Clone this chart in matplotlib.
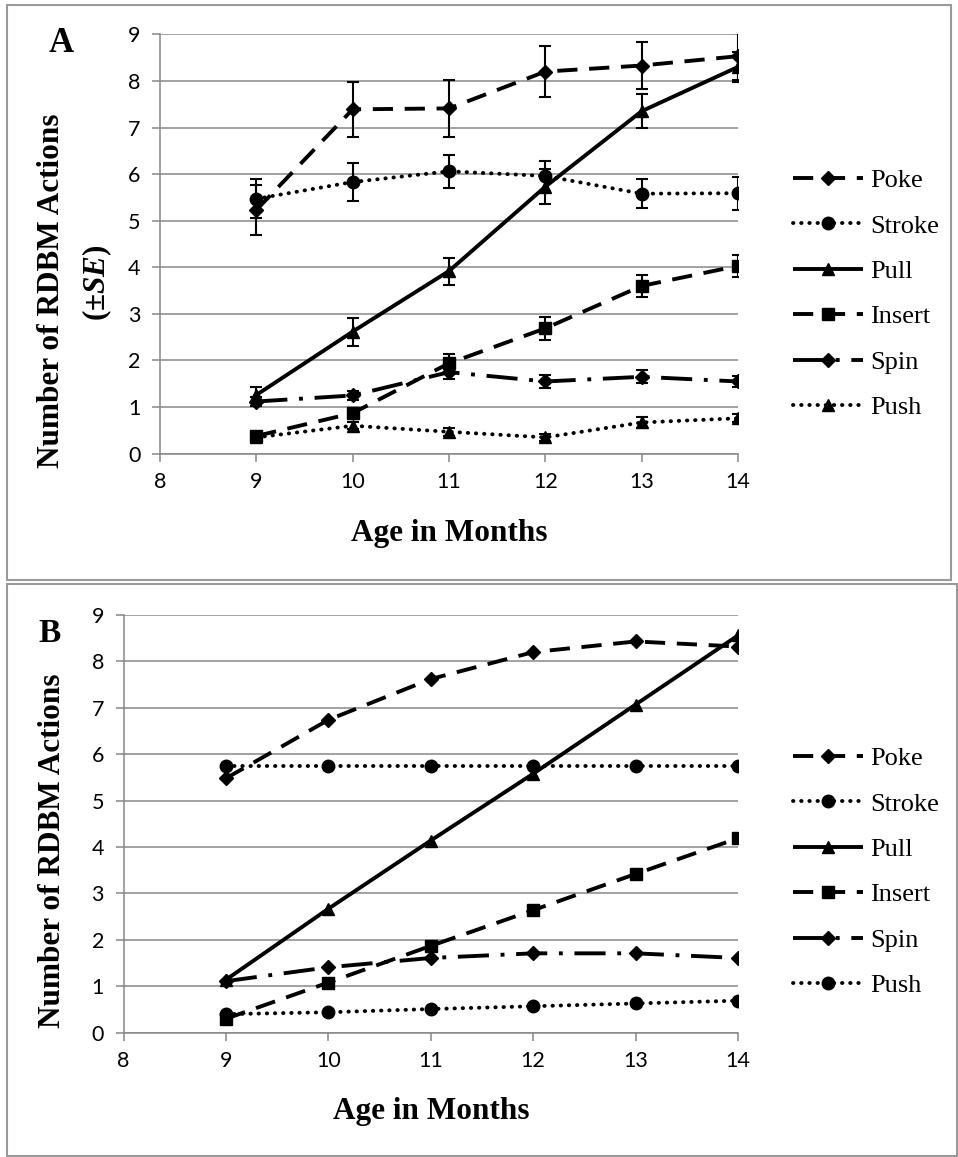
import matplotlib
matplotlib.use("Agg")
import matplotlib.pyplot as plt
from matplotlib.patches import Rectangle

# ---------------- data ----------------
months = [9, 10, 11, 12, 13, 14]
series_names = ["Poke", "Stroke", "Pull", "Insert", "Spin", "Push"]

# Panel A (observed means, +/- SE)
a_poke = [5.23, 7.39, 7.41, 8.20, 8.33, 8.53]
a_stroke = [5.47, 5.83, 6.06, 5.96, 5.58, 5.59]
a_pull = [1.26, 2.62, 3.92, 5.73, 7.35, 8.30]
a_insert = [0.38, 0.87, 1.94, 2.69, 3.60, 4.03]
a_spin = [1.12, 1.25, 1.75, 1.55, 1.65, 1.55]
a_push = [0.35, 0.60, 0.47, 0.35, 0.67, 0.76]

a_poke_se = [0.53, 0.59, 0.61, 0.54, 0.50, 0.50]
a_stroke_se = [0.42, 0.41, 0.36, 0.32, 0.31, 0.35]
a_pull_se = [0.17, 0.30, 0.29, 0.38, 0.36, 0.32]
a_insert_se = [0.08, 0.12, 0.19, 0.25, 0.24, 0.23]
a_spin_se = [0.10, 0.10, 0.14, 0.14, 0.14, 0.12]
a_push_se = [0.05, 0.08, 0.08, 0.07, 0.11, 0.09]

# Panel B (model estimates)
b_poke = [5.48, 6.74, 7.62, 8.20, 8.43, 8.32]
b_stroke = [5.75, 5.75, 5.75, 5.75, 5.75, 5.75]
b_pull = [1.14, 2.67, 4.14, 5.58, 7.07, 8.56]
b_insert = [0.30, 1.08, 1.87, 2.64, 3.42, 4.19]
b_spin = [1.11, 1.41, 1.61, 1.71, 1.71, 1.61]
b_push = [0.40, 0.44, 0.51, 0.57, 0.63, 0.69]

x_ticks = [8, 9, 10, 11, 12, 13, 14]
y_ticks = [0, 1, 2, 3, 4, 5, 6, 7, 8, 9]

# ---------------- styling ----------------
W, H = 958, 1157
plt.rcParams['mathtext.fontset'] = 'custom'
plt.rcParams['mathtext.rm'] = 'Liberation Serif:bold'
plt.rcParams['mathtext.it'] = 'Liberation Serif:italic:bold'

SERIF = ['Liberation Serif', 'DejaVu Serif']
SANS = ['Lato', 'DejaVu Sans']
GRID = '#878787'
LW = 2.8

dash = (0, (5.2, 3.0))
dot = (0, (0.1, 2.0))
dashdot = (0, (8, 3, 1, 3))

styles_a = {
    "Poke": dict(ls=dash, marker='D', ms=7.5, cap='butt'),
    "Stroke": dict(ls=dot, marker='o', ms=9, cap='round'),
    "Pull": dict(ls='-', marker='^', ms=9, cap='butt'),
    "Insert": dict(ls=dash, marker='s', ms=8, cap='butt'),
    "Spin": dict(ls=dashdot, marker='D', ms=7.5, cap='butt'),
    "Push": dict(ls=dot, marker='^', ms=8.5, cap='round'),
}
styles_b = dict(styles_a)
styles_b["Push"] = dict(ls=dot, marker='o', ms=9, cap='round')


def fx(px):
    return px / W


def fy(py):
    return 1 - py / H


fig = plt.figure(figsize=(W / 100, H / 100), dpi=100)

# panel frames
fig.add_artist(Rectangle((fx(7), fy(580)), fx(951) - fx(7), fy(5) - fy(580),
                         transform=fig.transFigure, fill=False, ec='#9a9a9a', lw=1.5))
fig.add_artist(Rectangle((fx(7), fy(1156)), fx(957) - fx(7), fy(584) - fy(1156),
                         transform=fig.transFigure, fill=False, ec='#9a9a9a', lw=1.5))


def setup_axes(ax):
    ax.set_xlim(8, 14)
    ax.set_ylim(0, 9)
    ax.set_xticks(x_ticks)
    ax.set_yticks(y_ticks)
    ax.set_xticklabels([str(t) for t in x_ticks])
    ax.set_yticklabels([str(t) for t in y_ticks])
    ax.grid(axis='y', color=GRID, lw=1.1)
    ax.set_axisbelow(True)
    for s in ['top', 'right']:
        ax.spines[s].set_visible(False)
    for s in ['left', 'bottom']:
        ax.spines[s].set_color(GRID)
        ax.spines[s].set_linewidth(1.1)
    ax.tick_params(axis='both', colors=GRID, length=6, width=1.1, labelcolor='black')
    ax.tick_params(axis='y', pad=8)
    ax.tick_params(axis='x', pad=7)
    for lab in ax.get_xticklabels() + ax.get_yticklabels():
        lab.set_fontfamily(SANS)
        lab.set_fontsize(15.5)


def draw_series(ax, data, styles):
    for name, vals in zip(series_names, data):
        st = styles[name]
        ax.plot(months, vals, color='black', lw=LW, linestyle=st['ls'],
                dash_capstyle=st['cap'], solid_capstyle='butt',
                marker=st['marker'], ms=st['ms'], mfc='black', mec='black',
                label=name, zorder=3)


def add_legend(ax, cx, cy):
    leg = ax.legend(loc='center left', bbox_to_anchor=(fx(cx), fy(cy)),
                    bbox_transform=fig.transFigure, frameon=False,
                    prop={'family': SERIF, 'size': 19}, handlelength=2.65,
                    handletextpad=0.27, labelspacing=0.83, borderpad=0,
                    borderaxespad=0, numpoints=1)
    return leg


# ---------------- Panel A ----------------
axA = fig.add_axes([fx(160), fy(453.7), fx(738) - fx(160), fy(34.3) - fy(453.7)])
setup_axes(axA)
a_data = [a_poke, a_stroke, a_pull, a_insert, a_spin, a_push]
a_se = [a_poke_se, a_stroke_se, a_pull_se, a_insert_se, a_spin_se, a_push_se]
for vals, se in zip(a_data, a_se):
    axA.errorbar(months, vals, yerr=se, fmt='none', ecolor='black',
                 elinewidth=1.5, capsize=4, capthick=1.5, zorder=4)
draw_series(axA, a_data, styles_a)
add_legend(axA, 793, 294)

fig.text(fx(61), fy(44), "A", family=SERIF, weight='bold', size=25,
         ha='center', va='center')
fig.text(fx(52), fy(291), "Number of RDBM Actions", family=SERIF, weight='bold',
         size=22.5, rotation=90, ha='center', va='center')
fig.text(fx(97), fy(283), r"(±$\mathit{SE}$)", family=SERIF, weight='bold',
         size=22.5, rotation=90, ha='center', va='center')
fig.text(fx(449), fy(541), "Age in Months", family=SERIF, weight='bold',
         size=22.5, ha='center', va='baseline')

# ---------------- Panel B ----------------
axB = fig.add_axes([fx(123.5), fy(1032.7), fx(738) - fx(123.5), fy(615) - fy(1032.7)])
setup_axes(axB)
b_data = [b_poke, b_stroke, b_pull, b_insert, b_spin, b_push]
draw_series(axB, b_data, styles_b)
add_legend(axB, 793, 872)

fig.text(fx(50), fy(633), "B", family=SERIF, weight='bold', size=24,
         ha='center', va='center')
fig.text(fx(53), fy(851), "Number of RDBM Actions", family=SERIF, weight='bold',
         size=22.5, rotation=90, ha='center', va='center')
fig.text(fx(431), fy(1119), "Age in Months", family=SERIF, weight='bold',
         size=22.5, ha='center', va='baseline')

fig.savefig("out.png", dpi=100)
